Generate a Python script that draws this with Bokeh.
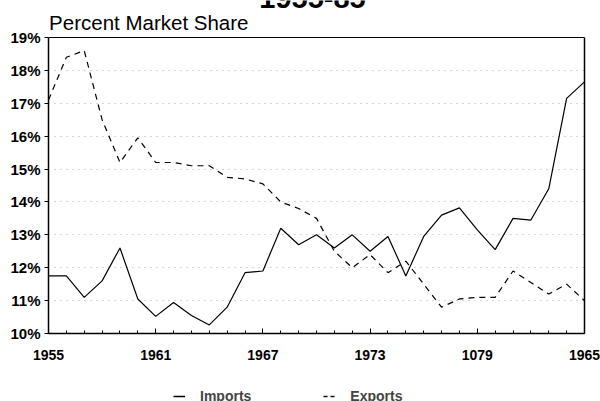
from bokeh.plotting import figure
from bokeh.layouts import column
from bokeh.models import (FixedTicker, Label, Legend, LegendItem, Range1d,
                          LinearAxis, Span)
from bokeh.embed import file_html
from bokeh.resources import INLINE

years = list(range(1955, 1986))
imports = [11.75, 11.75, 11.1, 11.6, 12.6, 11.05, 10.52, 10.94, 10.55, 10.26,
           10.8, 11.85, 11.9, 13.2, 12.7, 13.0, 12.6, 13.0, 12.5, 12.95,
           11.75, 12.95, 13.6, 13.82, 13.15, 12.55, 13.5, 13.45, 14.4, 17.15, 17.65]
exports = [17.1, 18.4, 18.6, 16.5, 15.2, 15.95, 15.2, 15.2, 15.1, 15.1,
           14.75, 14.7, 14.55, 14.0, 13.8, 13.5, 12.5, 12.0, 12.4, 11.85,
           12.2, 11.5, 10.8, 11.05, 11.1, 11.1, 11.9, 11.55, 11.2, 11.5, 11.0]

x_ticks = [1955, 1961, 1967, 1973, 1979, 1985]
x_tick_labels = ["1955", "1961", "1967", "1973", "1079", "1965"]
y_ticks = list(range(10, 20))
y_tick_labels = [f"{v}%" for v in y_ticks]
series_names = ["Imports", "Exports"]

title_text = "1955-85"
subtitle_text = "Percent Market Share"
FONT = "Liberation Sans"

Y_TOP = 19 + 37 / (296 / 9)   # headroom above 19% for the titles

p = figure(width=600, height=380, output_backend="svg", toolbar_location=None,
           x_range=Range1d(1955, 1985), y_range=Range1d(10, Y_TOP),
           min_border_left=48, min_border_right=16, min_border_top=0,
           min_border_bottom=47)
p.background_fill_color = "white"
p.border_fill_color = "white"
p.outline_line_color = None

# axes
xa = p.xaxis[0]
xa.ticker = FixedTicker(ticks=x_ticks, minor_ticks=years)
xa.major_label_overrides = {t: l for t, l in zip(x_ticks, x_tick_labels)}
xa.major_tick_in = 5
xa.major_tick_out = 0
xa.minor_tick_in = 3
xa.minor_tick_out = 0
xa.axis_line_width = 1.5
xa.major_label_standoff = 16
xa.major_label_text_font = FONT
xa.major_label_text_font_style = "bold"
xa.major_label_text_font_size = "14px"
xa.major_label_text_color = "black"

ya = p.yaxis[0]
ya.ticker = FixedTicker(ticks=y_ticks)
ya.bounds = (10, 19)
ya.major_label_overrides = {t: l for t, l in zip(y_ticks, y_tick_labels)}
ya.major_tick_in = 0
ya.major_tick_out = 4
ya.minor_tick_in = 0
ya.minor_tick_out = 0
ya.axis_line_width = 1.5
ya.major_label_standoff = 4
ya.major_label_text_font = FONT
ya.major_label_text_font_style = "bold"
ya.major_label_text_font_size = "15px"
ya.major_label_text_color = "black"

# right border as an unlabeled axis limited to the data range
ra = LinearAxis(ticker=FixedTicker(ticks=[]), bounds=(10, 19), axis_line_width=1.5,
                major_tick_out=0, major_tick_in=0, minor_tick_out=0, minor_tick_in=0,
                major_label_text_font_size="0px")
p.add_layout(ra, "right")
# top border at 19%
p.add_layout(Span(location=19, dimension="width", line_color="black", line_width=1.2))

p.xgrid.grid_line_color = None
p.ygrid.grid_line_color = "#999999"
p.ygrid.grid_line_dash = "1 5"
p.ygrid.grid_line_alpha = 0.8

p.line(years, imports, line_color="black", line_width=1.2)
p.line(years, exports, line_color="black", line_width=1.2, line_dash="6 5")

p.add_layout(Label(x=1969.776, y=20.216, text=title_text, text_align="center",
                   text_baseline="middle", text_font=FONT, text_font_style="bold",
                   text_font_size="29px", text_color="black"))
p.add_layout(Label(x=1966.194, y=19.441, text=subtitle_text, text_align="right",
                   text_baseline="middle", text_font=FONT,
                   text_font_size="20.5px", text_color="black"))

# legend strip below the chart (legend swatches only; no visible data)
nan = float("nan")
q = figure(width=600, height=21, output_backend="svg", toolbar_location=None,
           x_range=Range1d(0, 1), y_range=Range1d(0, 1),
           x_axis_type=None, y_axis_type=None,
           min_border_left=0, min_border_right=0, min_border_top=0, min_border_bottom=0)
q.outline_line_color = None
q.xgrid.grid_line_color = None
q.ygrid.grid_line_color = None
q_imp = q.line(x=[nan, nan], y=[nan, nan], line_color="black", line_width=1.5)
q_exp = q.line(x=[nan, nan], y=[nan, nan], line_color="black", line_width=1.5,
               line_dash="4 3")
lg = Legend(items=[LegendItem(label=series_names[0], renderers=[q_imp]),
                   LegendItem(label=series_names[1], renderers=[q_exp])],
            location=(125, -3), orientation="horizontal",
            border_line_color=None, background_fill_alpha=0,
            padding=0, margin=0, spacing=72, glyph_width=12, glyph_height=14,
            label_standoff=15, label_text_font=FONT,
            label_text_font_style="bold", label_text_font_size="14px")
q.add_layout(lg)

layout = column(p, q, spacing=0)
open("out.html", "w").write(file_html(layout, INLINE))
